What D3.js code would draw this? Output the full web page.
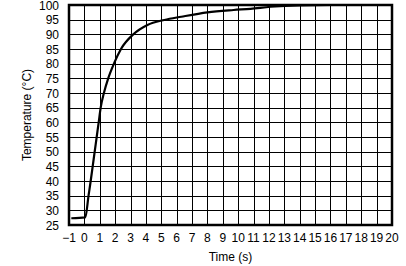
<!DOCTYPE html>
<html>
<head>
<meta charset="utf-8">
<script src="https://cdn.jsdelivr.net/npm/d3@7"></script>
<style>
  body { margin: 0; background: #fff; }
  text { font-family: "Liberation Sans", Arial, sans-serif; fill: #000; }
</style>
</head>
<body>
<div id="chart"></div>
<script>
// values
const timeS = [-0.85, 0.06, 0.27, 0.41, 0.54, 0.67, 0.8, 0.93, 1.06, 1.27, 1.55, 1.92, 2.38, 3.18, 4.1, 5.2, 6.3, 8, 9.7, 10.8, 12.1, 14, 16, 19];
const tempC = [27.3, 27.6, 35, 40, 45, 50, 55, 60, 65, 70, 75, 80, 85, 90, 93.2, 94.9, 96, 97.5, 98.3, 98.7, 99.4, 99.9, 100, 100];
const xTicks = d3.range(-1, 21, 1);
const yTicks = d3.range(25, 101, 5);

const width = 406;
const height = 266;
const margin = { top: 5, right: 14, bottom: 41, left: 69 };

const svg = d3.select('#chart')
    .append('svg')
    .attr('width', width)
    .attr('height', height);

const x = d3.scaleLinear().domain([-1, 20]).range([margin.left, width - margin.right]);
const y = d3.scaleLinear().domain([25, 100]).range([height - margin.bottom, margin.top]);

// grid
svg.append('g')
    .selectAll('line')
    .data(xTicks)
    .enter()
    .append('line')
    .attr('x1', d => Math.round(x(d)) + 0.5)
    .attr('x2', d => Math.round(x(d)) + 0.5)
    .attr('y1', y(100))
    .attr('y2', y(25))
    .attr('stroke', '#000')
    .attr('stroke-width', 1);

svg.append('g')
    .selectAll('line')
    .data(yTicks)
    .enter()
    .append('line')
    .attr('x1', x(-1))
    .attr('x2', x(20))
    .attr('y1', d => Math.round(y(d)) + 0.5)
    .attr('y2', d => Math.round(y(d)) + 0.5)
    .attr('stroke', '#000')
    .attr('stroke-width', 1);

// curve
const line = d3.line()
    .x(d => x(d[0]))
    .y(d => y(d[1]))
    .curve(d3.curveMonotoneX);

svg.append('path')
    .datum(timeS.map((t, i) => [t, tempC[i]]))
    .attr('d', line)
    .attr('fill', 'none')
    .attr('stroke', '#000')
    .attr('stroke-width', 2.2);

// frame
svg.append('rect')
    .attr('x', x(-1))
    .attr('y', y(100))
    .attr('width', x(20) - x(-1))
    .attr('height', y(25) - y(100))
    .attr('fill', 'none')
    .attr('stroke', '#000')
    .attr('stroke-width', 2.5);

// tick labels
svg.append('g')
    .selectAll('text')
    .data(yTicks)
    .enter()
    .append('text')
    .attr('x', x(-1) - 10)
    .attr('y', d => y(d) + 4.5)
    .attr('text-anchor', 'end')
    .style('font-size', '12px')
    .text(d => d);

svg.append('g')
    .selectAll('text')
    .data(xTicks)
    .enter()
    .append('text')
    .attr('x', d => x(d))
    .attr('y', y(25) + 17)
    .attr('text-anchor', 'middle')
    .style('font-size', '12px')
    .text(d => d < 0 ? '\u2212' + Math.abs(d) : d);

// axis titles
svg.append('text')
    .attr('x', (x(-1) + x(20)) / 2)
    .attr('y', 261)
    .attr('text-anchor', 'middle')
    .style('font-size', '12px')
    .text('Time (s)');

svg.append('text')
    .attr('transform', `translate(31,${(y(25) + y(100)) / 2}) rotate(-90)`)
    .attr('text-anchor', 'middle')
    .style('font-size', '12px')
    .text('Temperature (°C)');
</script>
</body>
</html>
